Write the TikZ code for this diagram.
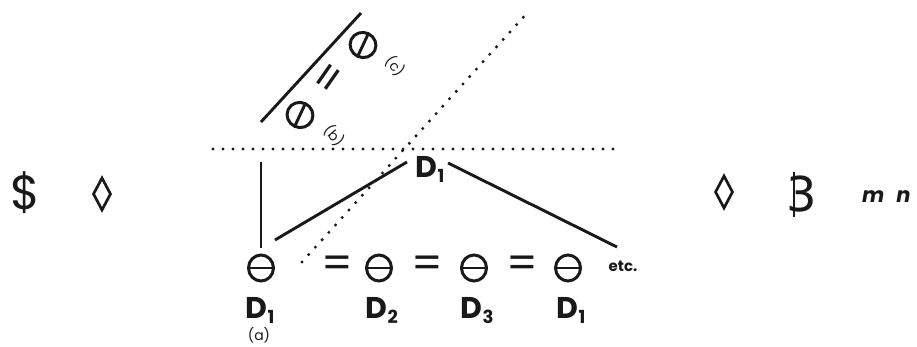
\documentclass[tikz,border=0pt]{standalone}
\usepackage{fontspec}
\setsansfont{Poppins}
\newfontfamily\glyphfont{DejaVu Sans}
\usetikzlibrary{calc,shapes.geometric}
\definecolor{inkblack}{RGB}{25,25,25}
\newcommand{\dlab}[1]{D\kern0.5pt\raisebox{-5pt}{\fontsize{18}{18}\selectfont #1}}

\begin{document}
\begin{tikzpicture}[
    x=1pt,
    y=-1pt,
    every node/.style={text=inkblack},
    inkline/.style={
      inkblack,
      line width=2.9pt
    },
    dotline/.style={
      inkblack,
      line width=3.3pt,
      line cap=round,
      dash pattern=on 0pt off 10pt
    },
    minus circle/.style={
      ellipse,
      draw=inkblack,
      line width=3pt,
      minimum width=25pt,
      minimum height=26pt,
      inner sep=0pt
    },
    lozenge/.style={
      diamond,
      draw=inkblack,
      line width=2.7pt,
      minimum width=18pt,
      minimum height=33pt,
      inner sep=0pt
    },
    big glyph/.style={
      font=\sffamily\fontsize{48}{48}\selectfont,
      inner sep=0pt
    },
    dlabel/.style={
      font=\sffamily\bfseries\fontsize{30}{30}\selectfont,
      anchor=base west,
      inner sep=0pt
    },
    small label/.style={
      font=\sffamily\fontsize{14}{14}\selectfont,
      inner sep=0pt
    },
    equal sign/.style={
      font=\sffamily\fontsize{44}{44}\selectfont,
      inner sep=0pt
    }
]
\useasboundingbox (0,0) rectangle (917,347);

% Outer symbols.
\node[big glyph] (dolleft) at (25,193) {\$};
\node[lozenge] (lozleft) at (102,194) {};
\node[lozenge] (lozright) at (724,192) {};
\node[big glyph,font=\glyphfont\fontsize{48}{48}\selectfont] (dolright) at (802,194) {3};
\draw[inkline,line width=2.2pt]
  ($(dolright.center)+(-8,-22)$) -- ($(dolright.center)+(-8,23)$);
\node[
  font=\sffamily\bfseries\itshape\fontsize{21}{21}\selectfont,
  anchor=base west,
  inner sep=0pt
] (mn) at (862,203) {m\hspace{12pt}n};

% Dotted axes.
\coordinate (hleft) at (213,149);
\coordinate (hright) at (623,149);
\coordinate (dlow) at (302,262);
\coordinate (dhigh) at (528,12);
\draw[dotline] (hleft) -- (hright);
\draw[dotline] (dlow) -- (dhigh);

% Rotated pair above the axis.
\coordinate (barlo) at (261,122);
\coordinate (barhi) at (361,13);
\draw[inkline] (barlo) -- (barhi);
\node[minus circle,rotate=65] (thb) at (300,115) {};
\node[minus circle,rotate=65] (thc) at (363,45) {};
\node[equal sign,rotate=55] (eqtop) at (332,80) {=};
\node[small label,rotate=-50] (subb) at (334,136) {(b)};
\node[small label,rotate=-50] (subc) at (395,66) {(c)};

% Bottom row.
\node[minus circle] (tha) at (261,268) {};
\node[minus circle] (thd) at (379,268) {};
\node[minus circle] (the) at (474,268) {};
\node[minus circle] (thf) at (568,268) {};
\foreach \x/\n in {337/eqa,427/eqb,522/eqc}
  \node[equal sign] (\n) at (\x,267) {=};
\foreach \n in {tha,thb,thc,thd,the,thf}
  \draw[inkline,shorten <=3pt,shorten >=3pt]
    (\n.west) -- (\n.east);
\node[font=\sffamily\bfseries\fontsize{15}{15}\selectfont,inner sep=0pt]
  (etc) at (623,266) {etc.};

\node[dlabel] (dtop) at (415,178) {\dlab{1}};
\node[dlabel] (dlow1) at (245,318) {\dlab{1}};
\node[dlabel] (dlow2) at (365,318) {\dlab{2}};
\node[dlabel] (dlow3) at (460,318) {\dlab{3}};
\node[dlabel] (dlow4) at (556,318) {\dlab{1}};
\node[small label] (suba) at (259,335) {(a)};

% Links.
\coordinate (vtop) at (261,162);
\draw[inkline] ($(tha.north)+(0,-6)$) -- (vtop);
\draw[inkline] ($(tha.center)+(14,-28)$) -- ($(dtop.base west)+(-8,-16)$);
\draw[inkline] ($(dtop.base west)+(33,-15)$) -- ($(etc.center)+(-6,-19)$);

\end{tikzpicture}
\end{document}
